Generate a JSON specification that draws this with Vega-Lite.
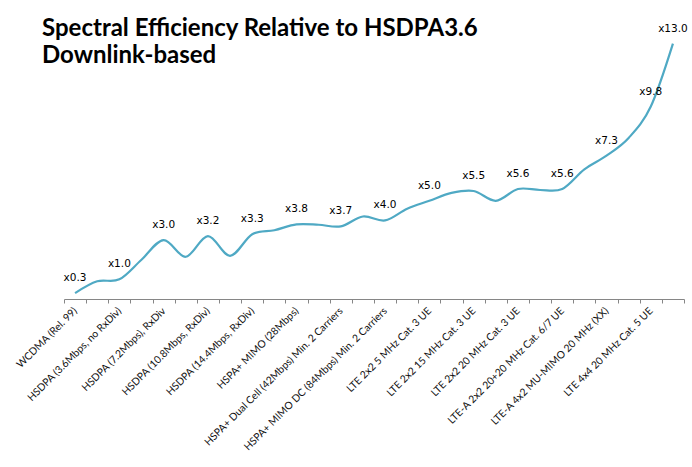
{
  "$schema": "https://vega.github.io/schema/vega-lite/v6.json",
  "autosize": {"type": "none"},
  "width": 620,
  "height": 275,
  "padding": {"left": 64, "top": 24, "right": 8, "bottom": 168},
  "background": "white",
  "title": {
    "text": ["Spectral Efficiency Relative to HSDPA3.6", "Downlink-based"],
    "anchor": "start",
    "frame": "group",
    "orient": "top",
    "offset": 0,
    "baseline": "alphabetic",
    "dx": -22,
    "dy": 63,
    "lineHeight": 27,
    "font": "Lato",
    "fontSize": 24,
    "fontWeight": "bold",
    "color": "#000000"
  },
  "data": {
    "values": [
      {"i": 0, "v": 0.3, "label": "x0.3"},
      {"i": 1, "v": 0.9, "label": null},
      {"i": 2, "v": 1.0, "label": "x1.0"},
      {"i": 3, "v": 2.0, "label": null},
      {"i": 4, "v": 3.0, "label": "x3.0"},
      {"i": 5, "v": 2.15, "label": null},
      {"i": 6, "v": 3.2, "label": "x3.2"},
      {"i": 7, "v": 2.2, "label": null},
      {"i": 8, "v": 3.3, "label": "x3.3"},
      {"i": 9, "v": 3.5, "label": null},
      {"i": 10, "v": 3.8, "label": "x3.8"},
      {"i": 11, "v": 3.78, "label": null},
      {"i": 12, "v": 3.7, "label": "x3.7"},
      {"i": 13, "v": 4.2, "label": null},
      {"i": 14, "v": 4.0, "label": "x4.0"},
      {"i": 15, "v": 4.6, "label": null},
      {"i": 16, "v": 5.0, "label": "x5.0"},
      {"i": 17, "v": 5.4, "label": null},
      {"i": 18, "v": 5.5, "label": "x5.5"},
      {"i": 19, "v": 5.0, "label": null},
      {"i": 20, "v": 5.6, "label": "x5.6"},
      {"i": 21, "v": 5.55, "label": null},
      {"i": 22, "v": 5.6, "label": "x5.6"},
      {"i": 23, "v": 6.6, "label": null},
      {"i": 24, "v": 7.3, "label": "x7.3"},
      {"i": 25, "v": 8.2, "label": null},
      {"i": 26, "v": 9.8, "label": "x9.8"},
      {"i": 27, "v": 13.0, "label": "x13.0"}
    ]
  },
  "encoding": {
    "x": {
      "field": "i",
      "type": "ordinal",
      "scale": {"type": "band", "paddingInner": 0, "paddingOuter": 0},
      "axis": {
        "title": null,
        "tickBand": "extent",
        "domainColor": "#868686",
        "tickColor": "#868686",
        "tickSize": 4,
        "labelAngle": -45,
        "labelAlign": "right",
        "labelBaseline": "middle",
        "labelPadding": 6,
        "labelOverlap": false,
        "labelBound": false,
        "labelFlush": false,
        "labelLimit": 400,
        "labelFont": "Lato",
        "labelFontSize": 10.3,
        "labelColor": "#111111",
        "labelExpr": "['WCDMA (Rel. 99)', '', 'HSDPA (3.6Mbps, no RxDiv)', '', 'HSDPA (7.2Mbps), RxDiv', '', 'HSDPA (10.8Mbps, RxDiv)', '', 'HSDPA (14.4Mbps, RxDiv)', '', 'HSPA+ MIMO (28Mbps)', '', 'HSPA+ Dual Cell (42Mbps) Min. 2 Carriers', '', 'HSPA+ MIMO DC (84Mbps) Min. 2 Carriers', '', 'LTE 2x2 5 MHz Cat. 3 UE', '', 'LTE 2x2 15 MHz Cat. 3 UE', '', 'LTE 2x2 20 MHz Cat. 3 UE', '', 'LTE-A 2x2 20+20 MHz Cat. 6/7 UE', '', 'LTE-A 4x2 MU-MIMO 20 MHz (XX)', '', 'LTE 4x4 20 MHz Cat. 5 UE', ''][datum.value]"
      }
    },
    "y": {
      "field": "v",
      "type": "quantitative",
      "scale": {"domain": [0, 14], "nice": false, "zero": true},
      "axis": null
    }
  },
  "layer": [
    {
      "mark": {"type": "line", "interpolate": "cardinal", "tension": 0, "color": "#4fa9c4", "strokeWidth": 2.2}
    },
    {
      "transform": [{"filter": "datum.label != null"}],
      "mark": {"type": "text", "baseline": "alphabetic", "align": "center", "dy": -12, "font": "DejaVu Sans", "fontSize": 10.5, "color": "#000000"},
      "encoding": {"text": {"field": "label"}}
    }
  ],
  "config": {"view": {"stroke": null}}
}
